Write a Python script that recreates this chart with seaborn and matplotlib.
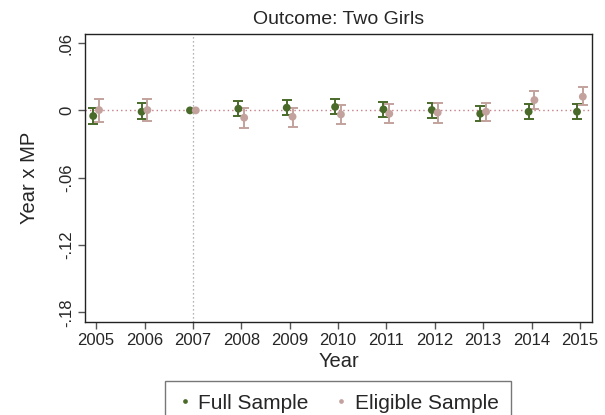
import numpy as np
import pandas as pd
import matplotlib
matplotlib.use("Agg")
import matplotlib.pyplot as plt
import seaborn as sns

# Event-study estimates: coefficient and 95% CI bounds per year
years = [2005, 2006, 2007, 2008, 2009, 2010, 2011, 2012, 2013, 2014, 2015]

full_coef = [-0.0050, -0.0012, 0.0, 0.0015, 0.0024, 0.0031, 0.0009, 0.0003, -0.0030, -0.0012, -0.0012]
full_lo   = [-0.0120, -0.0077, 0.0, -0.0050, -0.0042, -0.0036, -0.0056, -0.0065, -0.0095, -0.0074, -0.0074]
full_hi   = [0.0024, 0.0062, 0.0, 0.0083, 0.0089, 0.0100, 0.0074, 0.0065, 0.0038, 0.0060, 0.0060]

elig_coef = [0.0003, 0.0003, 0.0, -0.0065, -0.0056, -0.0036, -0.0030, -0.0020, -0.0012, 0.0092, 0.0122]
elig_lo   = [-0.0100, -0.0095, 0.0, -0.0160, -0.0145, -0.0120, -0.0116, -0.0110, -0.0092, 0.0009, 0.0044]
elig_hi   = [0.0104, 0.0098, 0.0, 0.0024, 0.0024, 0.0047, 0.0053, 0.0062, 0.0068, 0.0172, 0.0207]

series_names = ["Full Sample", "Eligible Sample"]
y_ticks = [0.06, 0.0, -0.06, -0.12, -0.18]
y_tick_labels = [".06", "0", "-.06", "-.12", "-.18"]

green = "#4a6a2a"
rose = "#c3a29d"
palette = {"Full Sample": green, "Eligible Sample": rose}
offsets = {"Full Sample": -0.06, "Eligible Sample": 0.06}

frames = []
for name, c, lo, hi in [("Full Sample", full_coef, full_lo, full_hi),
                        ("Eligible Sample", elig_coef, elig_lo, elig_hi)]:
    frames.append(pd.DataFrame({"year": years, "coef": c, "lo": lo, "hi": hi, "sample": name}))
df = pd.concat(frames, ignore_index=True)
df["xpos"] = df["year"] + df["sample"].map(offsets)

sns.set_theme(style="white")
plt.rcParams["font.family"] = ["Liberation Sans", "DejaVu Sans"]

fig = plt.figure(figsize=(6.05, 4.15), dpi=100)
ax = fig.add_axes([0.1405, 0.224, 0.838, 0.694])

# reference lines
ax.axhline(0, color="#c77d86", lw=1.0, ls=(0, (1, 2.2)), zorder=1)
ax.axvline(2007, color="#9a9a9a", lw=0.9, ls=(0, (1, 2.2)), zorder=1)

# confidence intervals (omitted base year has none)
for name in series_names:
    sub = df[(df["sample"] == name) & (df["year"] != 2007)]
    ax.errorbar(sub["xpos"], sub["coef"],
                yerr=[sub["coef"] - sub["lo"], sub["hi"] - sub["coef"]],
                fmt="none", ecolor=palette[name], elinewidth=1.4,
                capsize=3.4, capthick=1.4, zorder=2)

sns.scatterplot(data=df, x="xpos", y="coef", hue="sample", hue_order=series_names,
                palette=palette, s=32, edgecolor="none", zorder=3, ax=ax, legend=True)

ax.set_xlim(2004.77, 2015.25)
ax.set_ylim(-0.1885, 0.068)
ax.set_xticks(years)
ax.set_xticklabels([str(y) for y in years], fontsize=12)
ax.set_yticks(y_ticks)
ax.set_yticklabels(y_tick_labels, fontsize=12, rotation=90, va="center")
ax.tick_params(axis="both", which="major", direction="out", length=5, width=1,
               color="#555555", pad=3, bottom=True, left=True)

for side in ["top", "right", "bottom", "left"]:
    ax.spines[side].set_color("#222222")
    ax.spines[side].set_linewidth(1.0)

ax.set_xlabel("Year", fontsize=14.5, labelpad=3)
ax.set_ylabel("Year x MP", fontsize=14.5, labelpad=14)
ax.set_title("Outcome: Two Girls", fontsize=14, pad=7)

handles, labels = ax.get_legend_handles_labels()
ax.get_legend().remove()
fig.legend(handles, labels, loc="upper center", bbox_to_anchor=(338 / 605, 1 - 381 / 415),
           ncol=2, frameon=True, fancybox=False, edgecolor="#555555",
           fontsize=15, markerscale=0.6, handletextpad=0.3, columnspacing=1.2,
           borderpad=0.6, handlelength=0.7, borderaxespad=0)

fig.savefig("out.png", dpi=100, facecolor="white")
